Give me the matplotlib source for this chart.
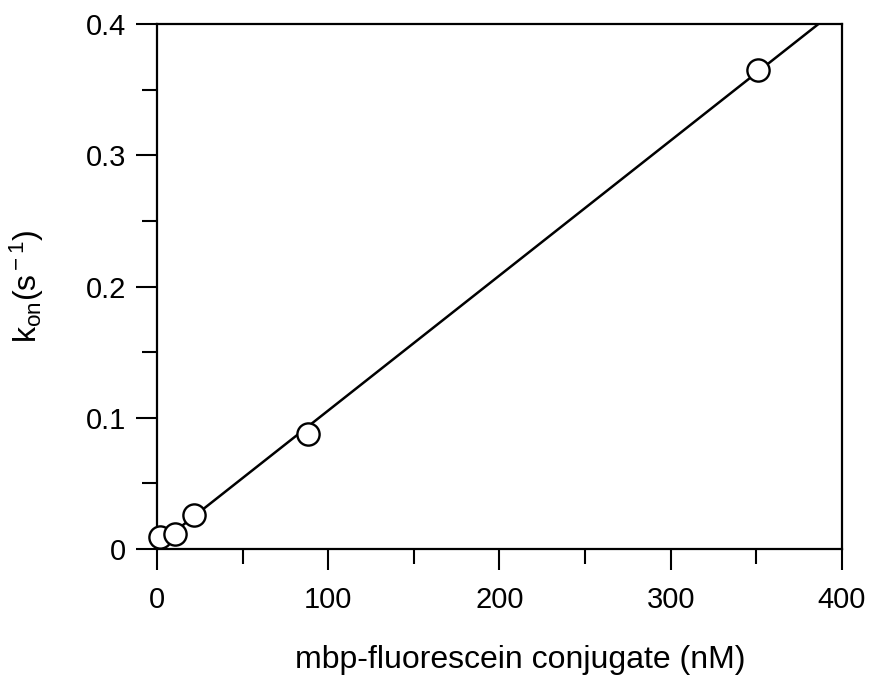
import numpy as np
import matplotlib
matplotlib.use("Agg")
import matplotlib.pyplot as plt
from matplotlib.ticker import MultipleLocator, FuncFormatter

plt.rcParams['font.family'] = ['Liberation Sans', 'DejaVu Sans']
plt.rcParams['mathtext.fontset'] = 'custom'
plt.rcParams['mathtext.rm'] = 'Liberation Sans'
plt.rcParams['mathtext.it'] = 'Liberation Sans'

# mbp-fluorescein conjugate concentration (nM) and observed on-rate (s^-1)
conc_nM = [1.5, 10.5, 21.6, 88.0, 351.0]
k_on = [0.009, 0.0114, 0.026, 0.088, 0.365]

x_ticks = [0, 100, 200, 300, 400]
y_ticks = [0, 0.1, 0.2, 0.3, 0.4]

fig = plt.figure(figsize=(8.7, 6.75), dpi=100)
ax = fig.add_axes([157 / 870, 1 - 549 / 675, (842 - 157) / 870, (549 - 24) / 675])

# least-squares linear fit through the points
slope, intercept = np.polyfit(conc_nM, k_on, 1)
xf = np.array([conc_nM[1], 400])
ax.plot(xf, slope * xf + intercept, color='black', lw=1.8, zorder=2)

ax.plot(conc_nM, k_on, 'o', ms=16, mfc='white', mec='black', mew=1.7,
        zorder=3, clip_on=False)

ax.set_xlim(0, 400)
ax.set_ylim(0, 0.4)
ax.set_xticks(x_ticks)
ax.set_yticks(y_ticks)
ax.xaxis.set_minor_locator(MultipleLocator(50))
ax.yaxis.set_minor_locator(MultipleLocator(0.05))
ax.yaxis.set_major_formatter(FuncFormatter(lambda v, p: '0' if v == 0 else f'{v:.1f}'))

for s in ax.spines.values():
    s.set_linewidth(1.6)
ax.tick_params(which='major', direction='out', length=15, width=1.5,
               labelsize=21, pad=7)
ax.tick_params(which='minor', direction='out', length=10.5, width=1.5)
ax.tick_params(axis='x', which='major', pad=12)
ax.tick_params(top=False, right=False, which='both')

ax.set_xlabel('mbp-fluorescein conjugate (nM)', fontsize=23)
ax.set_ylabel(r'k$_{\rm on}$(s$^{\rm -1}$)', fontsize=23)
ax.xaxis.set_label_coords(0.53, -0.182)
ax.yaxis.set_label_coords(-0.162, 0.5)

fig.savefig('out.png', dpi=100)
